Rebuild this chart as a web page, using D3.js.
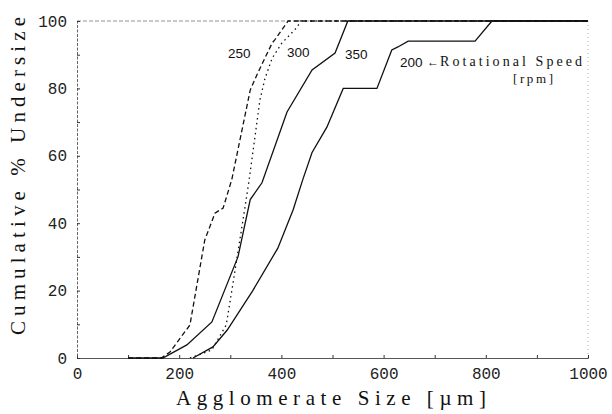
<!DOCTYPE html>
<html>
<head>
<meta charset="utf-8">
<script src="https://cdn.jsdelivr.net/npm/d3@7"></script>
<style>
  html, body { margin: 0; padding: 0; background: #fff; }
  svg { display: block; }
</style>
</head>
<body>
<svg id="chart" width="612" height="414"></svg>
<script>
// ---- Data ----
const xTicks = [0, 200, 400, 600, 800, 1000];
const yTicks = [0, 20, 40, 60, 80, 100];

const size250 = [100, 165, 182, 221, 250, 270, 286, 303, 339, 352, 382, 387, 413, 1000];
const pct250  = [0, 0, 1.8, 9.8, 35, 43, 44.5, 53, 79.5, 84, 93.5, 94.4, 100, 100];

const size300 = [221, 264, 292, 303, 329, 337, 358, 368, 382, 401, 407, 430, 438, 1000];
const pct300  = [0, 2.4, 9.8, 20, 45, 53, 76.6, 83, 89, 93.5, 94.4, 98, 100, 100];

const size350 = [100, 168, 215, 264, 315, 339, 362, 411, 460, 505, 530, 1000];
const pct350  = [0, 0, 3.9, 10.7, 30, 47, 52, 73, 85.5, 90.5, 100, 100];

const size200 = [227, 266, 294, 344, 393, 423, 442, 460, 489, 521, 587, 616, 628, 648, 779, 812, 1000];
const pct200  = [0, 3.3, 8.3, 20, 32.6, 44, 53, 61, 68.5, 80, 80, 91.4, 92.3, 94, 94, 100, 100];

const seriesLabels = ["250", "300", "350", "200"];

// ---- Chart ----
const svg = d3.select("#chart");
const x = d3.scaleLinear().domain([0, 1000]).range([77, 588]);
const y = d3.scaleLinear().domain([0, 100]).range([358, 21]);

// frame: top & right faint
svg.append("line").attr("x1", x(0)).attr("x2", x(1000)).attr("y1", y(100)).attr("y2", y(100))
  .attr("stroke", "#777").attr("stroke-width", 0.8).attr("stroke-dasharray", "4,2");
svg.append("line").attr("x1", x(1000)).attr("x2", x(1000)).attr("y1", y(100)).attr("y2", y(0))
  .attr("stroke", "#999").attr("stroke-width", 0.8).attr("stroke-dasharray", "1,3");

// axes
const tickFont = "'Liberation Mono', monospace";
const xAxis = d3.axisBottom(x).tickValues(d3.range(0, 1001, 100)).tickSize(-3).tickPadding(10)
  .tickFormat(d => xTicks.includes(d) ? d : "");
const gx = svg.append("g").attr("transform", `translate(0,${y(0)})`).call(xAxis);
gx.select(".domain").attr("stroke", "#444").attr("stroke-width", 0.9);
gx.selectAll(".tick line").attr("stroke", "#333");
gx.selectAll(".tick text").attr("font-family", tickFont).attr("font-size", 16).attr("fill", "#222");

const yAxis = d3.axisLeft(y).tickValues(d3.range(0, 101, 10)).tickSize(-3).tickPadding(10)
  .tickFormat(d => yTicks.includes(d) ? d : "");
const gy = svg.append("g").attr("transform", `translate(${x(0)},0)`).call(yAxis);
gy.select(".domain").attr("stroke", "#555").attr("stroke-width", 0.9).attr("stroke-dasharray", "3,1.5");
gy.selectAll(".tick line").attr("stroke", "#333");
gy.selectAll(".tick text").attr("font-family", tickFont).attr("font-size", 16).attr("fill", "#222");

// curves
const line = d3.line().x(d => x(d[0])).y(d => y(d[1]));
const mk = (xs, ys) => xs.map((v, i) => [v, ys[i]]);
const curves = [
  {d: mk(size250, pct250), dash: "5,3"},
  {d: mk(size300, pct300), dash: "1.5,3.5"},
  {d: mk(size350, pct350), dash: null},
  {d: mk(size200, pct200), dash: null}
];
curves.forEach(c => {
  svg.append("path").attr("d", line(c.d)).attr("fill", "none")
    .attr("stroke", "#111").attr("stroke-width", 1.3)
    .attr("stroke-dasharray", c.dash);
});

// curve labels
const lblFont = "'Liberation Sans', Arial, sans-serif";
const lblPos = [[228, 58], [287, 57], [345, 59], [400, 67]];
seriesLabels.forEach((t, i) => {
  svg.append("text").attr("x", lblPos[i][0]).attr("y", lblPos[i][1])
    .attr("font-family", lblFont).attr("font-size", 13.5).attr("fill", "#111").text(t);
});
svg.append("text").attr("x", 427).attr("y", 66).attr("font-family", lblFont)
  .attr("font-size", 12).attr("fill", "#111").text("←");
svg.append("text").attr("x", 440).attr("y", 66).attr("font-family", "'Liberation Serif', serif")
  .attr("font-size", 14).attr("fill", "#111").attr("textLength", 142).attr("lengthAdjust", "spacing")
  .text("Rotational Speed");
svg.append("text").attr("x", 513).attr("y", 83).attr("font-family", "'Liberation Serif', serif")
  .attr("font-size", 13).attr("fill", "#111").attr("textLength", 40).attr("lengthAdjust", "spacing")
  .text("[rpm]");

// axis titles
svg.append("text").attr("x", 176).attr("y", 405).attr("font-family", "'Liberation Serif', serif")
  .attr("font-size", 21).attr("fill", "#111").attr("textLength", 310).attr("lengthAdjust", "spacing")
  .text("Agglomerate Size [µm]");
svg.append("text").attr("transform", "translate(25,335) rotate(-90)")
  .attr("font-family", "'Liberation Serif', serif")
  .attr("font-size", 21).attr("fill", "#111").attr("textLength", 318).attr("lengthAdjust", "spacing")
  .text("Cumulative % Undersize");
</script>
</body>
</html>
